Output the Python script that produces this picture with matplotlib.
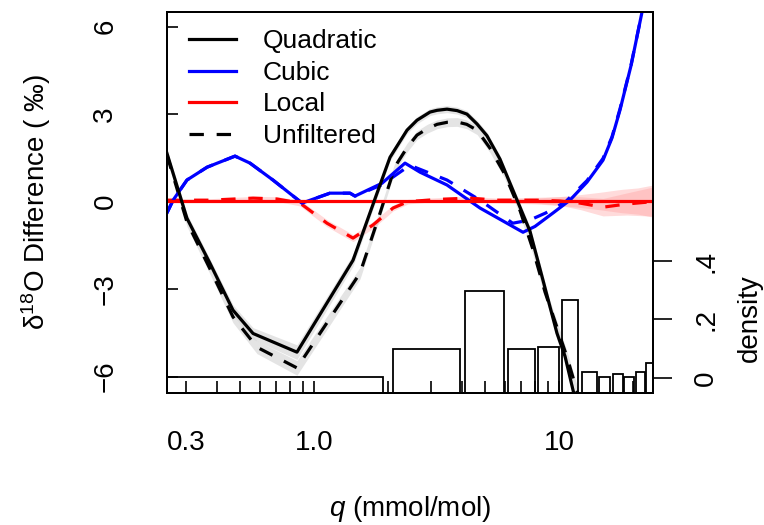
import numpy as np
import matplotlib
matplotlib.use("Agg")
import matplotlib.pyplot as plt

plt.rcParams['font.family'] = ['Liberation Sans', 'DejaVu Sans']
plt.rcParams['mathtext.fontset'] = 'custom'
plt.rcParams['mathtext.rm'] = 'Liberation Sans'
plt.rcParams['mathtext.it'] = 'Liberation Sans:italic'
plt.rcParams['axes.linewidth'] = 1.4

# quadratic fit (filtered) and unfiltered version
quad_x = [0.251, 0.303, 0.376, 0.467, 0.564, 0.852, 1.443, 1.808, 2.043, 2.397, 2.632,
          2.975, 3.18, 3.49, 3.84, 4.21, 4.63, 5.08, 5.74, 6.93, 7.61, 8.36, 9.81,
          10.58, 11.4, 12.2]
quad_y = [1.66, -0.57, -2.11, -3.72, -4.52, -5.16, -2.01, 0.29, 1.52, 2.45, 2.79,
          3.07, 3.13, 3.17, 3.12, 3.0, 2.66, 2.26, 1.46, -0.19, -1.01, -2.3, -4.51,
          -5.3, -6.45, -7.5]
quad_se = [0.15, 0.15, 0.15, 0.18, 0.2, 0.25, 0.2, 0.15, 0.12, 0.12, 0.12,
           0.12, 0.12, 0.12, 0.12, 0.12, 0.12, 0.12, 0.12, 0.15, 0.15, 0.18, 0.2,
           0.2, 0.2, 0.2]

quad_unf_x = [0.251, 0.303, 0.376, 0.467, 0.585, 0.852, 1.541, 1.859, 2.141, 2.397, 2.632,
              2.9, 3.18, 3.5, 3.84, 4.2, 4.63, 5.23, 6.0, 6.93, 7.8, 8.77, 10.78, 11.85, 12.8]
quad_unf_y = [1.6, -0.7, -2.3, -3.95, -4.99, -5.7, -2.45, -0.4, 1.2, 1.85, 2.28,
              2.5, 2.65, 2.72, 2.73, 2.65, 2.45, 1.83, 0.95, -0.3, -1.6, -3.1, -5.33, -6.5, -7.5]
quad_unf_se = [0.15, 0.15, 0.18, 0.2, 0.22, 0.25, 0.2, 0.15, 0.15, 0.15, 0.15,
               0.15, 0.15, 0.15, 0.15, 0.15, 0.15, 0.15, 0.15, 0.15, 0.18, 0.2, 0.2, 0.2, 0.2]

# cubic fit
cub_x = [0.251, 0.266, 0.303, 0.366, 0.476, 0.548, 0.680, 0.894, 1.162, 1.403, 1.470,
         1.895, 2.352, 2.708, 3.49, 4.76, 6.13, 7.13, 7.98, 9.45, 11.08, 13.01, 15.12,
         16.45, 17.74, 19.7, 21.82, 24.6]
cub_y = [-0.39, 0.05, 0.74, 1.18, 1.56, 1.32, 0.74, -0.05, 0.29, 0.29, 0.19,
         0.63, 1.32, 1.01, 0.57, -0.22, -0.74, -1.05, -0.85, -0.39, 0.05, 0.67, 1.42,
         2.18, 3.14, 4.68, 6.5, 8.5]

cub_unf_x = [0.251, 0.266, 0.303, 0.366, 0.476, 0.548, 0.680, 0.894, 1.162, 1.403, 1.470,
             1.895, 2.466, 2.63, 3.49, 4.76, 6.47, 7.61, 8.82, 10.65, 13.01, 15.12,
             16.45, 17.74, 19.7, 21.82, 24.6]
cub_unf_y = [-0.39, 0.05, 0.74, 1.18, 1.56, 1.32, 0.74, -0.05, 0.29, 0.29, 0.19,
             0.58, 1.25, 1.15, 0.74, 0.05, -0.74, -0.63, -0.39, 0.0, 0.72, 1.48,
             2.22, 3.18, 4.7, 6.5, 8.5]

# local fit
loc_x = [0.251, 1.0, 5.0, 8.0, 10.0, 12.2, 14.7, 18.0, 21.0, 24.19]
loc_y = [0.02, 0.02, 0.02, 0.02, 0.02, 0.02, 0.02, 0.02, 0.02, 0.02]
loc_se = [0.04, 0.04, 0.05, 0.1, 0.15, 0.22, 0.3, 0.4, 0.45, 0.55]

loc_unf_x = [0.251, 0.376, 0.564, 0.706, 0.877, 1.130, 1.443, 1.741, 2.101, 2.419,
             3.27, 4.33, 5.58, 8.13, 10.1, 12.18, 15.12, 18.95, 24.19]
loc_unf_y = [0.05, 0.05, 0.12, 0.09, -0.05, -0.74, -1.25, -0.8, -0.22, 0.0,
             0.08, 0.12, 0.05, 0.05, 0.02, -0.05, -0.19, -0.08, 0.0]
loc_unf_se = [0.05, 0.05, 0.06, 0.08, 0.1, 0.12, 0.12, 0.12, 0.1, 0.08,
              0.06, 0.06, 0.07, 0.1, 0.15, 0.22, 0.3, 0.38, 0.5]

# histogram of q
bar_left = [0.2, 2.101, 4.134, 6.192, 8.209, 10.285, 12.36, 14.54, 16.57, 18.5, 20.62, 22.66]
bar_right = [1.912, 3.944, 5.964, 7.980, 10.0, 12.0, 14.25, 16.15, 18.25, 20.24, 22.44, 24.6]
bar_dens = [0.004, 0.099, 0.297, 0.099, 0.106, 0.267, 0.02, 0.003, 0.014, 0.003, 0.02, 0.051]

fig = plt.figure(figsize=(7.64, 5.25), dpi=100)
ax = fig.add_axes([167/764, 132/525, 486/764, 381/525])

ax.fill_between(quad_x, np.array(quad_y) - quad_se, np.array(quad_y) + quad_se,
                color='#d9d9d9', alpha=0.7, lw=0)
ax.fill_between(quad_unf_x, np.array(quad_unf_y) - quad_unf_se, np.array(quad_unf_y) + quad_unf_se,
                color='#d9d9d9', alpha=0.7, lw=0)
ax.fill_between(loc_x, np.array(loc_y) - loc_se, np.array(loc_y) + loc_se,
                color='#ff9999', alpha=0.35, lw=0)
ax.fill_between(loc_unf_x, np.array(loc_unf_y) - loc_unf_se, np.array(loc_unf_y) + loc_unf_se,
                color='#ff9999', alpha=0.35, lw=0)

lw = 2.3
dash = (4.5, 4.0)
ax.plot(cub_unf_x, cub_unf_y, color='blue', lw=lw, dashes=dash)
ax.plot(loc_unf_x, loc_unf_y, color='red', lw=lw, dashes=dash)
ax.plot(quad_unf_x, quad_unf_y, color='black', lw=lw, dashes=dash)
ax.plot(cub_x, cub_y, color='blue', lw=lw, label='Cubic')
ax.plot(loc_x, loc_y, color='red', lw=lw, label='Local')
ax.plot(quad_x, quad_y, color='black', lw=lw, label='Quadratic')

ax.set_xscale('log')
ax.set_xlim(0.2512, 24.19)
ax.set_ylim(-6.56, 6.5)

ax.set_xticks([0.3, 1.0, 10])
ax.set_xticklabels(['0.3', '1.0', '10'])
ax.set_xticks([0.4, 0.5, 0.6, 0.7, 0.8, 0.9, 2, 3, 4, 5, 6, 7, 8, 9, 20], minor=True)
ax.xaxis.set_minor_formatter(matplotlib.ticker.NullFormatter())
ax.tick_params(axis='x', which='both', direction='in', length=9, width=1.2,
               labelsize=20, pad=27)
ax.set_yticks([-6, -3, 0, 3, 6])
ax.tick_params(axis='y', direction='in', length=8, width=1.2, labelsize=20, pad=35)
for t in ax.get_yticklabels():
    t.set_rotation(90)
    t.set_va('center')

ax.set_xlabel(r'$\it{q}$ (mmol/mol)', fontsize=20, va='top')
ax.xaxis.set_label_coords(0.5, -0.265)
ax.set_ylabel(r'$\mathregular{\delta^{18}}$O Difference ( ‰)', fontsize=20)
ax.yaxis.set_label_coords(-0.235, 0.5)

h, l = ax.get_legend_handles_labels()
unf = matplotlib.lines.Line2D([], [], color='black', lw=lw, dashes=dash)
ax.legend([h[2], h[0], h[1], unf], ['Quadratic', 'Cubic', 'Local', 'Unfiltered'],
          loc='upper left', bbox_to_anchor=(0.045, 0.955), frameon=False, fontsize=19,
          handlelength=1.8, handletextpad=1.0, labelspacing=0.29,
          borderpad=0, borderaxespad=0)

ax2 = ax.twinx()
ax2.set_ylim(-0.0513, 1.251)
widths = np.array(bar_right) - np.array(bar_left)
ax2.bar(bar_left, np.array(bar_dens) + 0.0513, width=widths, bottom=-0.0513,
        align='edge', fill=False, edgecolor='black', lw=1.3)
ax2.set_yticks([0, 0.2, 0.4])
ax2.set_yticklabels(['0', '.2', '.4'])
ax2.tick_params(axis='y', direction='out', length=14, width=1.2, labelsize=20, pad=15)
for t in ax2.get_yticklabels():
    t.set_rotation(90)
    t.set_va('center')
ax2.set_ylabel('density', fontsize=20)
ax2.yaxis.set_label_coords(1.173, 0.197)
ax2.set_xlim(0.2512, 24.19)

fig.savefig('out.png', dpi=100)
